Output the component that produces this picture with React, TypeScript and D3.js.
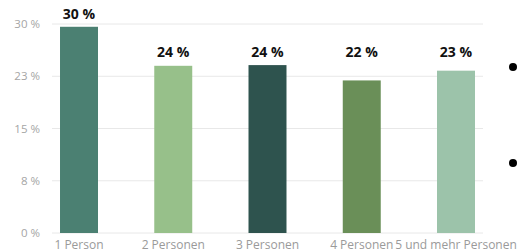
import React from 'react';
import * as d3 from 'd3';

const categories = ['1 Person', '2 Personen', '3 Personen', '4 Personen', '5 und mehr Personen'];
const values = [29.6, 24.0, 24.1, 21.9, 23.3];
const valueLabels = ['30 %', '24 %', '24 %', '22 %', '23 %'];
const colors = ['#4b8072', '#97c08a', '#2e534e', '#6a8f58', '#9cc3aa'];
const ticks = [0, 7.5, 15, 22.5, 30];
const tickLabels = ['0 %', '8 %', '15 %', '23 %', '30 %'];

const W = 523;
const H = 252;

export default function App() {
  const x = d3.scaleBand<string>()
    .domain(categories)
    .range([52, 483])
    .paddingInner(0.597)
    .paddingOuter(0.085);

  const y = d3.scaleLinear().domain([0, 30]).range([233, 24]);

  // labels sit on one row unless the bar reaches above it
  const labelRow = y(24.1);

  return (
    <svg width={W} height={H} style={{ position: 'absolute', left: 0, top: 0 }}
      fontFamily="'Open Sans', sans-serif">
      <rect width={W} height={H} fill="#fff" />
      {ticks.map((t, i) => (
        <g key={t}>
          <line x1={52} x2={483} y1={y(t)} y2={y(t)} stroke="#e8e8e8" strokeWidth={1} />
          <text x={40} y={y(t)} dy="0.35em" textAnchor="end" fontSize={11.5} fill="#a5a5a5">
            {tickLabels[i]}
          </text>
        </g>
      ))}
      {categories.map((c, i) => (
        <g key={c}>
          <rect x={x(c)} y={y(values[i])} width={x.bandwidth()} height={y(0) - y(values[i])}
            fill={colors[i]} />
          <text x={x(c)! + x.bandwidth() / 2} y={Math.min(y(values[i]), labelRow) - 8}
            textAnchor="middle" fontSize={14} fontWeight="bold" fill="#111">
            {valueLabels[i]}
          </text>
          <text x={x(c)! + x.bandwidth() / 2} y={249} textAnchor="middle" fontSize={12}
            fill="#9a9a9a">
            {c}
          </text>
        </g>
      ))}
      <circle cx={513} cy={67} r={4} fill="#000" />
      <circle cx={513} cy={163} r={4} fill="#000" />
    </svg>
  );
}
